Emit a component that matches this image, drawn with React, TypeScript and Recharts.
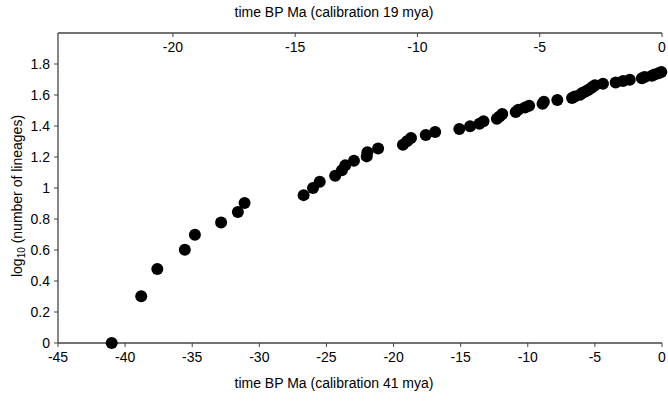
import { ScatterChart, Scatter, XAxis, YAxis } from 'recharts';

// time BP (Ma), calibration 41 mya
const timeBP41 = [
  -41.0, -38.8, -37.6, -35.55, -34.8, -32.85, -31.6, -31.1,
  -26.7, -26.0, -25.5, -24.35, -23.85, -23.6, -22.95, -22.0, -21.95, -21.15,
  -19.3, -19.0, -18.7, -17.6, -16.9, -15.1, -14.3, -13.6, -13.3,
  -12.3, -12.1, -11.9, -10.9, -10.7, -10.2, -9.9, -8.9, -8.8, -7.8,
  -6.7, -6.5, -6.1, -5.95, -5.7, -5.5, -5.3, -5.15, -5.0, -4.4,
  -3.45, -2.9, -2.4, -1.5, -1.3, -0.75, -0.55, -0.25, -0.05,
];

// log10 (number of lineages)
const logLineages = [
  0, 0.301, 0.477, 0.602, 0.699, 0.778, 0.845, 0.903,
  0.954, 1.0, 1.041, 1.079, 1.114, 1.146, 1.176, 1.204, 1.23, 1.255,
  1.279, 1.301, 1.322, 1.342, 1.362, 1.38, 1.398, 1.415, 1.431,
  1.447, 1.462, 1.477, 1.491, 1.505, 1.519, 1.531, 1.544, 1.556, 1.568,
  1.58, 1.591, 1.602, 1.613, 1.623, 1.633, 1.643, 1.653, 1.663, 1.672,
  1.681, 1.69, 1.699, 1.708, 1.716, 1.724, 1.732, 1.74, 1.748,
];

const bottomTicks = [-45, -40, -35, -30, -25, -20, -15, -10, -5, 0];
// top axis: 19 mya calibration
const topTicks = [-20, -15, -10, -5, 0];
const yTicks = [0, 0.2, 0.4, 0.6, 0.8, 1, 1.2, 1.4, 1.6, 1.8];

const points = timeBP41.map((t, i) => ({ t, n: logLineages[i] }));
// invisible anchors so the top axis gets drawn
const topAnchors = topTicks.map((t19) => ({ t19, n: 0 }));

const font = "'Liberation Sans Narrow', 'Liberation Sans', Arial, sans-serif";
const axisColor = '#444';
const tickStyle = { fontSize: 14, fill: '#000', fontFamily: font };

const Dot = (props: any) => <circle cx={props.cx} cy={props.cy} r={6} fill="#000" />;

export default function App() {
  return (
    <div style={{ position: 'relative', width: 668, height: 406, background: '#fff', fontFamily: font }}>
      <style>{'body{margin:0}'}</style>
      <ScatterChart width={668} height={406} margin={{ top: 33, right: 6, bottom: 0, left: 0 }}>
        <XAxis
          xAxisId="bottom"
          dataKey="t"
          type="number"
          domain={[-45, 0]}
          ticks={bottomTicks}
          height={63}
          tickSize={4}
          tickMargin={5}
          tick={tickStyle}
          axisLine={{ stroke: axisColor, strokeWidth: 1.3 }}
          tickLine={{ stroke: axisColor }}
        />
        <XAxis
          xAxisId="top"
          dataKey="t19"
          orientation="top"
          type="number"
          domain={[-24.7, 0]}
          ticks={topTicks}
          mirror
          tickSize={4}
          tickMargin={5}
          tick={tickStyle}
          axisLine={{ stroke: axisColor, strokeWidth: 1.3 }}
          tickLine={{ stroke: axisColor }}
          allowDataOverflow
        />
        <YAxis
          dataKey="n"
          type="number"
          domain={[0, 2]}
          ticks={yTicks}
          width={58}
          tickSize={4}
          tickMargin={4}
          tick={tickStyle}
          axisLine={{ stroke: axisColor, strokeWidth: 1.3 }}
          tickLine={{ stroke: axisColor }}
        />
        <Scatter data={points} xAxisId="bottom" fill="#000" shape={Dot} isAnimationActive={false} />
        <Scatter data={topAnchors} dataKey="t19" xAxisId="top" fill="none" shape={() => <g />} isAnimationActive={false} />
      </ScatterChart>
      <div style={{ position: 'absolute', left: 0, width: 668, top: 4, textAlign: 'center', fontSize: 14 }}>
        time BP Ma (calibration 19 mya)
      </div>
      <div style={{ position: 'absolute', left: 0, width: 668, top: 375, textAlign: 'center', fontSize: 14 }}>
        time BP Ma (calibration 41 mya)
      </div>
      <div
        style={{
          position: 'absolute',
          left: 18,
          top: 196,
          transform: 'translate(-50%, -50%) rotate(-90deg)',
          whiteSpace: 'nowrap',
          fontSize: 14,
        }}
      >
        log<sub style={{ fontSize: 10 }}>10</sub> (number of lineages)
      </div>
    </div>
  );
}
